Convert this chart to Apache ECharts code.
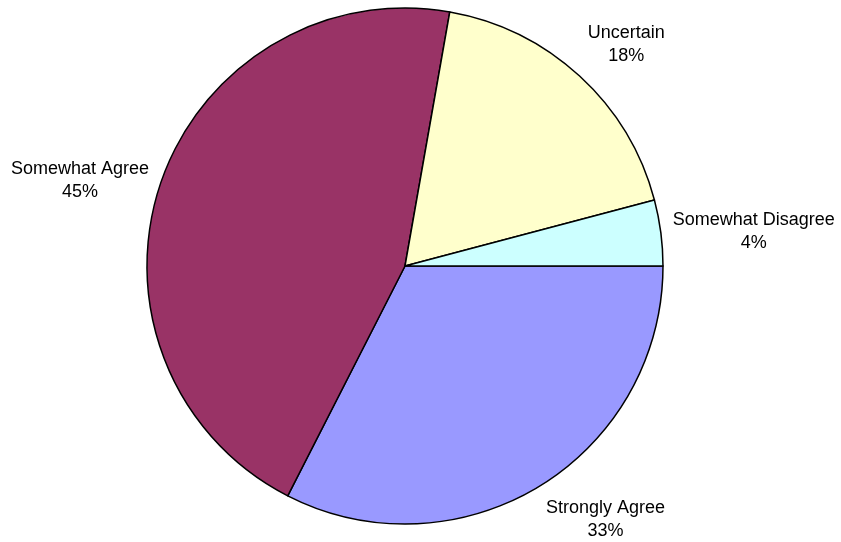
<!DOCTYPE html>
<html>
<head>
<meta charset="utf-8">
<script src="https://cdn.jsdelivr.net/npm/echarts@6/dist/echarts.min.js"></script>
<style>
  html, body { margin: 0; padding: 0; background: #fff; }
  #chart { width: 841px; height: 542px; }
</style>
</head>
<body>
<div id="chart"></div>
<script>
// answer categories, in drawing order (clockwise from 3 o'clock)
var categories = ['Strongly Agree', 'Somewhat Agree', 'Uncertain', 'Somewhat Disagree'];
// number of responses per answer
var responses = [79, 110, 44, 10];
var sliceColors = ['#9999FF', '#993366', '#FFFFCC', '#CCFFFF'];

document.addEventListener('DOMContentLoaded', function () {
  var myChart = echarts.init(document.getElementById('chart'));

  var pieData = categories.map(function (name, i) {
    return { name: name, value: responses[i], itemStyle: { color: sliceColors[i] } };
  });

  var option = {
    animation: false,
    backgroundColor: '#fff',
    series: [
      {
        type: 'pie',
        center: [405, 266],
        radius: 258,
        startAngle: 0,
        clockwise: true,
        avoidLabelOverlap: false,
        percentPrecision: 0,
        itemStyle: { borderColor: '#000', borderWidth: 1.5 },
        emphasis: { disabled: true },
        label: {
          position: 'outside',
          formatter: '{b}\n{d}%',
          fontFamily: 'Liberation Sans, Arial, sans-serif',
          fontSize: 18,
          lineHeight: 23,
          color: '#000'
        },
        labelLine: { show: true, length: 12, length2: 0, lineStyle: { opacity: 0 } },
        // put the label box corner/edge on the anchor point like Excel does,
        // lines centred inside the box
        labelLayout: function (params) {
          var pts = params.labelLinePoints;
          if (!pts) return {};
          var p0 = pts[0], p1 = pts[1];
          var dx = p1[0] - p0[0], dy = p1[1] - p0[1];
          var len = Math.sqrt(dx * dx + dy * dy) || 1;
          var c = dx / len, s = dy / len;
          var w = params.labelRect.width;
          var shift = Math.abs(c) < 0.3 ? 0 : (c > 0 ? w / 2 : -w / 2);
          return {
            x: p1[0] + shift,
            y: p1[1],
            align: 'center',
            verticalAlign: Math.abs(s) < 0.5 ? 'middle' : (s > 0 ? 'top' : 'bottom')
          };
        },
        data: pieData
      }
    ]
  };

  myChart.setOption(option);

  window.addEventListener('resize', function () {
    myChart.resize();
  });
});
</script>
</body>
</html>
